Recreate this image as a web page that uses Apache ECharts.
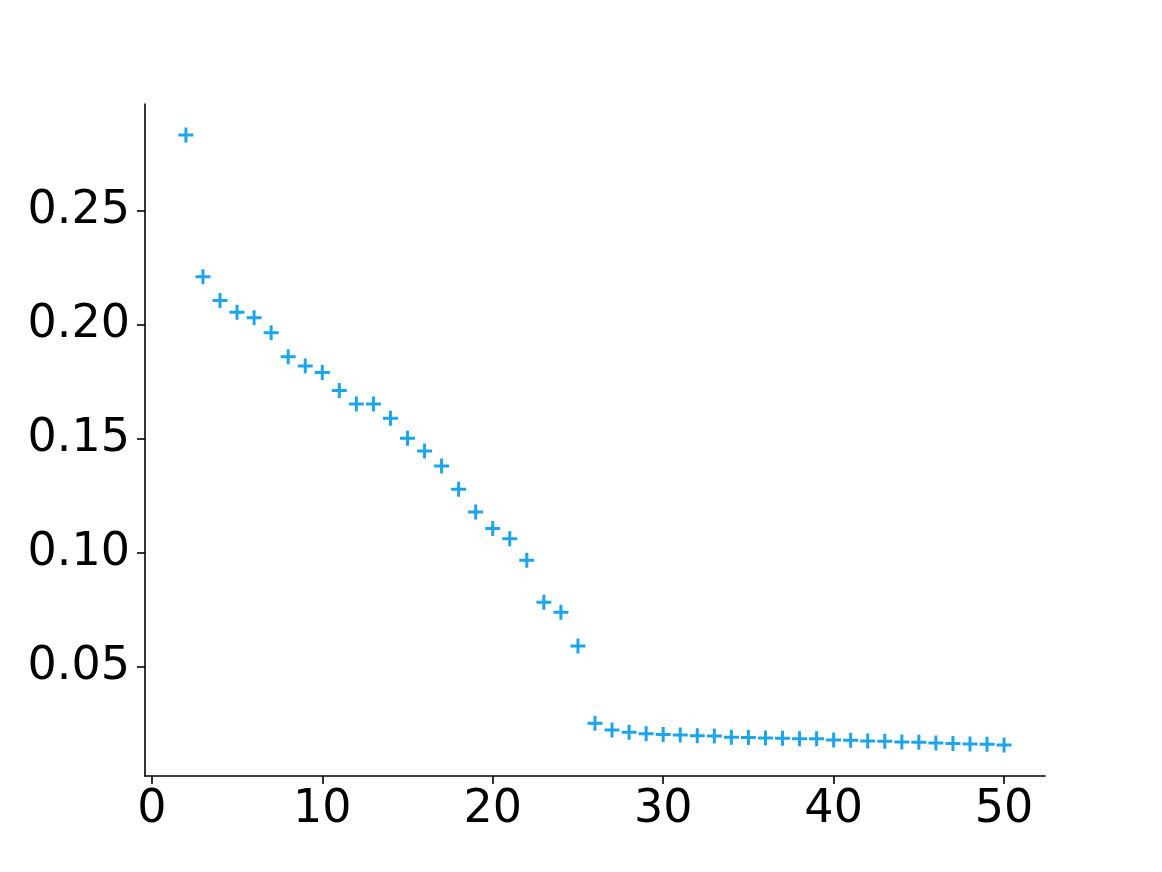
<!DOCTYPE html>
<html>
<head>
<meta charset="utf-8">
<script src="https://cdn.jsdelivr.net/npm/echarts@6/dist/echarts.min.js"></script>
<style>
  html, body { margin: 0; padding: 0; background: #fff; }
  #chart { width: 1162px; height: 872px; }
</style>
</head>
<body>
<div id="chart"></div>
<script>
// x positions (index) and values
var xs = [2, 3, 4, 5, 6, 7, 8, 9, 10, 11, 12, 13, 14, 15, 16, 17, 18, 19, 20,
  21, 22, 23, 24, 25, 26, 27, 28, 29, 30, 31, 32, 33, 34, 35, 36, 37, 38, 39,
  40, 41, 42, 43, 44, 45, 46, 47, 48, 49, 50];
var ys = [0.2834, 0.2212, 0.2107, 0.2056, 0.2032, 0.1966, 0.1861, 0.1820, 0.1791,
  0.1712, 0.1653, 0.1653, 0.1590, 0.1503, 0.1447, 0.1381, 0.1279, 0.1179, 0.1106,
  0.1062, 0.0967, 0.0783, 0.0739, 0.0591, 0.0252, 0.0222, 0.0212, 0.0205, 0.0202,
  0.0200, 0.0197, 0.0196, 0.0190, 0.0189, 0.0187, 0.0186, 0.0184, 0.0183, 0.0178,
  0.0177, 0.0174, 0.0172, 0.0169, 0.0168, 0.0165, 0.0163, 0.0161, 0.0159, 0.0156];
var xTicks = [0, 10, 20, 30, 40, 50];
var yTicks = [0.05, 0.10, 0.15, 0.20, 0.25];

var points = xs.map(function (x, i) { return [x, ys[i]]; });

var chart = echarts.init(document.getElementById('chart'));
var labelFont = { fontFamily: 'DejaVu Sans', fontSize: 46, color: '#000' };

chart.setOption({
  animation: false,
  grid: { left: 145, top: 104, width: 900, height: 672 },
  xAxis: {
    type: 'value',
    min: -0.4,
    max: 52.4,
    splitLine: { show: false },
    axisLine: { onZero: false, lineStyle: { color: '#000', width: 1.6 } },
    axisTick: { customValues: xTicks, length: 8, lineStyle: { color: '#000', width: 1.6 } },
    axisLabel: Object.assign({ customValues: xTicks, margin: 11 }, labelFont)
  },
  yAxis: {
    type: 'value',
    min: 0.002,
    max: 0.297,
    splitLine: { show: false },
    axisLine: { show: true, onZero: false, lineStyle: { color: '#000', width: 1.6 } },
    axisTick: { show: true, customValues: yTicks, length: 8, lineStyle: { color: '#000', width: 1.6 } },
    axisLabel: Object.assign({
      customValues: yTicks,
      margin: 15,
      formatter: function (v) { return v.toFixed(2); }
    }, labelFont)
  },
  series: [{
    type: 'scatter',
    data: points,
    symbol: 'path://M4,0H6V4H10V6H6V10H4V6H0V4H4Z',
    symbolSize: 15,
    itemStyle: { color: '#1ea5e9', opacity: 1 }
  }]
});
</script>
</body>
</html>
